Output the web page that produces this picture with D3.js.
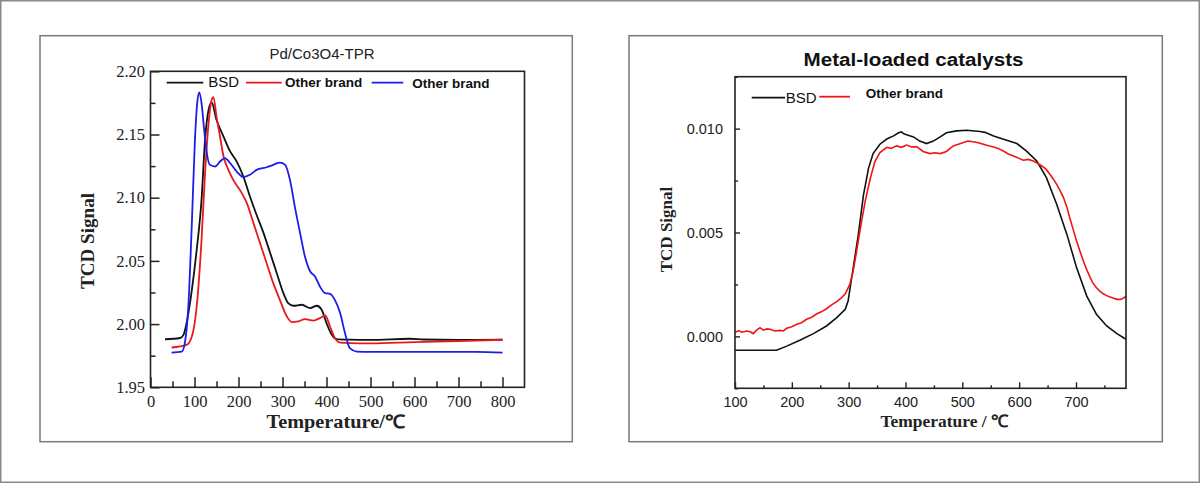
<!DOCTYPE html>
<html><head><meta charset="utf-8">
<script src="https://cdn.jsdelivr.net/npm/d3@7"></script>
<style>body{margin:0;background:#fff}svg{display:block}</style>
</head><body>
<svg id="c" width="1200" height="483"></svg>
<script>
// ---------- Left chart data: Pd/Co3O4-TPR ----------
const leftTitle = "Pd/Co3O4-TPR";
const leftXTicks = [0,100,200,300,400,500,600,700,800];
const leftXMinor = [50,150,250,350,450,550,650,750];
const leftYTicks = [1.95,2.00,2.05,2.10,2.15,2.20];
const leftYMinor = [1.975,2.025,2.075,2.125,2.175];
const leftBSD = [[33,1.988],[67,1.989],[75,1.9915],[82,2.0008],[94,2.0271],[105,2.0588],[116,2.0983],[124,2.1458],[132,2.1696],[139,2.1753],[150,2.1616],[166,2.1484],[181,2.1366],[196,2.1286],[211,2.1168],[226,2.101],[241,2.0865],[257,2.072],[272,2.0562],[287,2.0403],[302,2.0245],[313,2.0166],[325,2.0145],[344,2.0153],[363,2.0127],[378,2.0145],[389,2.0113],[400,2.0008],[412,1.9915],[423,1.9881],[450,1.9877],[500,1.9875],[590,1.9884],[620,1.9878],[700,1.9875],[800,1.9876]];
const leftRed = [[48,1.9815],[82,1.9836],[94,1.9902],[105,2.0139],[116,2.0667],[124,2.1195],[132,2.159],[139,2.1775],[143,2.1796],[150,2.1642],[158,2.1484],[166,2.1326],[177,2.122],[188,2.1141],[203,2.1062],[219,2.0957],[234,2.0799],[249,2.064],[264,2.0482],[279,2.0324],[294,2.0192],[310,2.006],[321,2.0016],[336,2.0021],[351,2.004],[370,2.0028],[385,2.0047],[397,2.0068],[408,1.9981],[419,1.9889],[431,1.9854],[453,1.985],[500,1.9848],[600,1.9858],[700,1.9866],[800,1.9876]];
const leftBlue = [[48,1.9775],[71,1.9783],[78,1.985],[86,2.0139],[94,2.0799],[101,2.1458],[107,2.1775],[111,2.1833],[116,2.1748],[122,2.1537],[128,2.1353],[135,2.126],[147,2.1247],[158,2.1286],[169,2.1313],[181,2.1274],[196,2.1207],[211,2.1163],[226,2.1181],[241,2.122],[264,2.1241],[279,2.126],[294,2.1278],[306,2.126],[317,2.1141],[328,2.093],[340,2.072],[351,2.0535],[363,2.0416],[374,2.0377],[385,2.0298],[397,2.0245],[408,2.024],[419,2.0192],[431,2.0087],[442,1.9929],[453,1.981],[469,1.9783],[500,1.978],[600,1.978],[740,1.978],[800,1.9775]];

// ---------- Right chart data: Metal-loaded catalysts ----------
const rightTitle = "Metal-loaded catalysts";
const rightXTicks = [100,200,300,400,500,600,700];
const rightXMinor = [150,250,350,450,550,650,750];
const rightYTicks = [0,0.005,0.010];
const rightYMinor = [-0.0025,0.0025,0.0075,0.0125];
const rightBSD = [[100,-0.00067],[140,-0.00067],[173,-0.00067],[191,-0.00047],[214,-0.00019],[238,0.00013],[261,0.0005],[279,0.0009],[294,0.0013],[299,0.0017],[308,0.0033],[317,0.0049],[326,0.0068],[335,0.0081],[343,0.0088],[355,0.00925],[367,0.0095],[379,0.00965],[388,0.0098],[393,0.00984],[397,0.00975],[402,0.0097],[414,0.0096],[425,0.0094],[437,0.00928],[449,0.0094],[461,0.0096],[472,0.0098],[490,0.00989],[508,0.00992],[531,0.00986],[540,0.00982],[555,0.00965],[578,0.00944],[596,0.00928],[613,0.00892],[631,0.00844],[648,0.00764],[666,0.00636],[684,0.00491],[701,0.00331],[719,0.00194],[736,0.00106],[754,0.0005],[772,0.00013],[788,-0.00014]];
const rightRed = [[100,0.00018],[106,0.00028],[112,0.0002],[121,0.00026],[127,0.00022],[132,0.00013],[138,0.0003],[144,0.00042],[150,0.0003],[156,0.00036],[162,0.00034],[170,0.00026],[179,0.00029],[185,0.00026],[191,0.00039],[200,0.00046],[209,0.00058],[217,0.00066],[226,0.00082],[235,0.00092],[244,0.00109],[252,0.00118],[261,0.00133],[270,0.00152],[279,0.00167],[287,0.00185],[294,0.00205],[302,0.0025],[308,0.00315],[314,0.0041],[320,0.0051],[329,0.0065],[338,0.0076],[346,0.0084],[355,0.00885],[367,0.0091],[375,0.00905],[384,0.00917],[393,0.0091],[402,0.00921],[411,0.00912],[420,0.00912],[431,0.0089],[443,0.0088],[452,0.00884],[461,0.0088],[472,0.0089],[484,0.00917],[493,0.00925],[502,0.00933],[510,0.0094],[519,0.00937],[528,0.00932],[537,0.00925],[546,0.00918],[555,0.00912],[563,0.00905],[572,0.00892],[581,0.00878],[590,0.00868],[599,0.00858],[607,0.00848],[616,0.00852],[625,0.00844],[633,0.00832],[640,0.0082],[647,0.00806],[654,0.0078],[660,0.00758],[666,0.00732],[672,0.00702],[678,0.00668],[684,0.00622],[689,0.00571],[695,0.00515],[701,0.00459],[707,0.0041],[713,0.00363],[719,0.0032],[725,0.00283],[730,0.00256],[736,0.00234],[742,0.00218],[748,0.00205],[754,0.00196],[760,0.00189],[766,0.00183],[772,0.00178],[778,0.00178],[783,0.00183],[788,0.00194]];

const svg = d3.select("#c");
const SERIF = "'Liberation Serif','Times New Roman',serif";
const SANS = "'Liberation Sans',Arial,sans-serif";

// outer frame and panel frames
svg.append("rect").attr("x",0.75).attr("y",0.75).attr("width",1198.5).attr("height",481.5)
  .attr("fill","#fff").attr("stroke","#8a8a8a").attr("stroke-width",1.5);
svg.append("rect").attr("x",40).attr("y",35.7).attr("width",532.3).attr("height",406)
  .attr("fill","none").attr("stroke","#7a7a7a").attr("stroke-width",1.5);
svg.append("rect").attr("x",629).attr("y",35.7).attr("width",533.3).attr("height",406)
  .attr("fill","none").attr("stroke","#7a7a7a").attr("stroke-width",1.5);

// ---------- Left chart ----------
{
  const x = d3.scaleLinear().domain([0,850]).range([150.5,524.5]);
  const y = d3.scaleLinear().domain([1.95,2.20]).range([387.3,71.3]);
  const g = svg.append("g");
  const line = d3.line().x(d=>x(d[0])).y(d=>y(d[1])).curve(d3.curveMonotoneX);
  [[leftBSD,"#111"],[leftRed,"#e8191e"],[leftBlue,"#1d1dea"]].forEach(([d,c])=>{
    g.append("path").datum(d).attr("d",line).attr("fill","none").attr("stroke",c).attr("stroke-width",1.8);
  });
  g.append("g").attr("transform",`translate(0,${y(1.95)})`)
    .call(d3.axisBottom(x).tickValues(leftXTicks).tickSize(-10).tickPadding(7.5).tickFormat(d3.format("d")));
  g.append("g").attr("transform",`translate(0,${y(1.95)})`)
    .call(d3.axisBottom(x).tickValues(leftXMinor).tickSize(-6).tickFormat(""));
  g.append("g").attr("transform",`translate(${x(0)},0)`)
    .call(d3.axisLeft(y).tickValues(leftYTicks).tickSize(-9).tickPadding(5.5).tickFormat(d3.format(".2f")));
  g.append("g").attr("transform",`translate(${x(0)},0)`)
    .call(d3.axisLeft(y).tickValues(leftYMinor).tickSize(-5).tickFormat(""));
  g.selectAll(".domain").remove();
  g.selectAll(".tick line").attr("stroke","#222").attr("stroke-width",1.5);
  g.selectAll(".tick text").attr("font-family",SERIF).attr("font-size",16.5).attr("fill","#222");
  g.append("rect").attr("x",x(0)).attr("y",y(2.20)).attr("width",x(850)-x(0)).attr("height",y(1.95)-y(2.20))
    .attr("fill","none").attr("stroke","#222").attr("stroke-width",1.6);
  g.append("text").attr("x",322).attr("y",59).attr("text-anchor","middle").attr("font-family",SANS)
    .attr("font-size",15).attr("fill","#222").text(leftTitle);
  g.append("text").attr("transform","translate(94,241) rotate(-90)").attr("text-anchor","middle")
    .attr("font-family",SERIF).attr("font-weight","bold").attr("font-size",18.5).attr("fill","#222")
    .attr("textLength",96).attr("lengthAdjust","spacingAndGlyphs").text("TCD Signal");
  g.append("text").attr("x",335.5).attr("y",428).attr("text-anchor","middle").attr("font-family",SERIF)
    .attr("font-weight","bold").attr("font-size",18.5).attr("fill","#222")
    .attr("textLength",138).attr("lengthAdjust","spacingAndGlyphs").text("Temperature/℃");
  // legend
  const leg = [["BSD","#111",166.7,203.3,208.3,"normal",15,87.3],
               ["Other brand","#e8191e",246,281.7,285,"bold",13.5,86.7],
               ["Other brand","#1d1dea",371.7,403.3,412.3,"bold",13.5,87.7]];
  leg.forEach(([t,c,x1,x2,tx,fw,fs,by])=>{
    g.append("line").attr("x1",x1).attr("x2",x2).attr("y1",82.7).attr("y2",82.7).attr("stroke",c).attr("stroke-width",1.8);
    g.append("text").attr("x",tx).attr("y",by).attr("font-family",SANS).attr("font-weight",fw)
      .attr("font-size",fs).attr("fill","#111").text(t);
  });
}

// ---------- Right chart ----------
{
  const x = d3.scaleLinear().domain([100,788]).range([735,1126]);
  const y = d3.scaleLinear().domain([-0.0025,0.0125]).range([388.3,76.7]);
  const g = svg.append("g");
  const line = d3.line().x(d=>x(d[0])).y(d=>y(d[1])).curve(d3.curveLinear);
  [[rightBSD,"#111"],[rightRed,"#f01515"]].forEach(([d,c])=>{
    g.append("path").datum(d).attr("d",line).attr("fill","none").attr("stroke",c).attr("stroke-width",1.6);
  });
  g.append("g").attr("transform",`translate(0,${y(-0.0025)})`)
    .call(d3.axisBottom(x).tickValues(rightXTicks).tickSize(-6).tickPadding(8).tickFormat(d3.format("d")));
  g.append("g").attr("transform",`translate(0,${y(-0.0025)})`)
    .call(d3.axisBottom(x).tickValues(rightXMinor).tickSize(-3).tickFormat(""));
  g.append("g").attr("transform",`translate(${x(100)},0)`)
    .call(d3.axisLeft(y).tickValues(rightYTicks).tickSize(-5).tickPadding(12).tickFormat(d3.format(".3f")));
  g.append("g").attr("transform",`translate(${x(100)},0)`)
    .call(d3.axisLeft(y).tickValues(rightYMinor).tickSize(-3).tickFormat(""));
  g.selectAll(".domain").remove();
  g.selectAll(".tick line").attr("stroke","#222").attr("stroke-width",1.4);
  g.selectAll(".tick text").attr("font-family",SANS).attr("font-size",14.5).attr("fill","#222");
  g.append("rect").attr("x",x(100)).attr("y",y(0.0125)).attr("width",x(788)-x(100)).attr("height",y(-0.0025)-y(0.0125))
    .attr("fill","none").attr("stroke","#222").attr("stroke-width",1.6);
  g.append("text").attr("x",913.5).attr("y",66).attr("text-anchor","middle").attr("font-family",SANS)
    .attr("font-weight","bold").attr("font-size",18).attr("fill","#111")
    .attr("textLength",220).attr("lengthAdjust","spacingAndGlyphs").text(rightTitle);
  g.append("text").attr("transform","translate(672,229.5) rotate(-90)").attr("text-anchor","middle")
    .attr("font-family",SERIF).attr("font-weight","bold").attr("font-size",17).attr("fill","#222").text("TCD Signal");
  g.append("text").attr("x",944.5).attr("y",427).attr("text-anchor","middle").attr("font-family",SERIF)
    .attr("font-weight","bold").attr("font-size",17).attr("fill","#222")
    .attr("textLength",128).attr("lengthAdjust","spacingAndGlyphs").text("Temperature / ℃");
  const leg = [["BSD","#111",751.7,785,785.7,"normal",15,102.7,97.7],
               ["Other brand","#f01515",819.3,850,865.7,"bold",13.5,98.3,96.7]];
  leg.forEach(([t,c,x1,x2,tx,fw,fs,by,ly])=>{
    g.append("line").attr("x1",x1).attr("x2",x2).attr("y1",ly).attr("y2",ly).attr("stroke",c).attr("stroke-width",1.8);
    g.append("text").attr("x",tx).attr("y",by).attr("font-family",SANS).attr("font-weight",fw)
      .attr("font-size",fs).attr("fill","#111").text(t);
  });
}
</script>
</body></html>
